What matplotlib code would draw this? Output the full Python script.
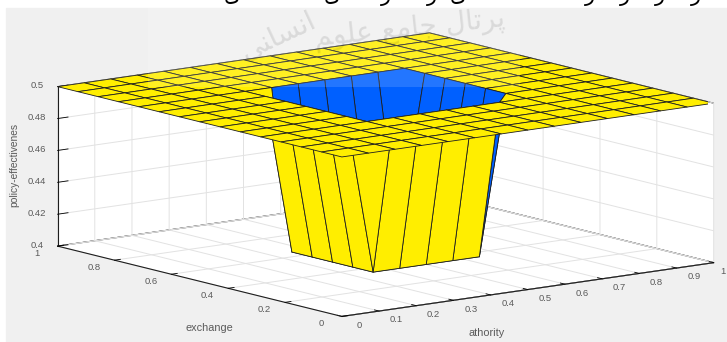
import numpy as np
import matplotlib
matplotlib.use('Agg')
import matplotlib.pyplot as plt
from matplotlib.patches import Rectangle
from matplotlib.transforms import Affine2D
from mpl_toolkits.mplot3d.art3d import Poly3DCollection

plt.rcParams['font.family'] = ['Liberation Sans', 'DejaVu Sans']

# fuzzy surface: 15 x 15 grid, flat 0.5 with a pit of 0.4 in the middle
authority = np.linspace(0, 1, 15)
exchange = np.linspace(0, 1, 15)
pit_low = 5
pit_high = 9
flat_value = 0.5
pit_value = 0.4

z_ticks = [0.4, 0.42, 0.44, 0.46, 0.48, 0.5]
x_ticks = [0, 0.1, 0.2, 0.3, 0.4, 0.5, 0.6, 0.7, 0.8, 0.9, 1]
y_ticks = [0, 0.2, 0.4, 0.6, 0.8, 1]

# watermark and the cut-off text line above the figure (shaped by hand, left to right)
watermark = '\ufee2\ufeee\ufee0\ufecb \ufeca\ufee3\ufe8e\ufe9f \ufedd\ufe8e\ufe97\ufeae\ufb58'
watermark2 = '\ufbfd\ufee8\ufe8e\ufeb4\ufee7\ufe8d'
top_text = [(232, '\ufbfc'), (332, '\ufbfc'), (386, '\ufead'), (432, '\ufead'), (458, '\ufbfc'),
            (590, '\ufead'), (625, '\ufead'), (660, '\ufead'), (696, '\ufead')]

W, H = 727, 342
YELLOW = '#FFEE00'
BLUE = '#0060FF'
GREY = '#F0F0F0'
TXT = '#5A5A5A'
EDGE = '#1E1E1E'

Z = np.full((15, 15), flat_value)
Z[pit_low:pit_high + 1, pit_low:pit_high + 1] = pit_value


def pt(i, j):
    return (authority[i], exchange[j], Z[j, i])


# far walls of the pit are blue, everything else yellow
polys = []
cols = []
for j in range(14):
    for i in range(14):
        if (i, j) == (9, 4):
            polys.append([pt(9, 4), pt(10, 4), pt(10, 5)])
            cols.append(YELLOW)
            polys.append([pt(9, 4), pt(10, 5), pt(9, 5)])
            cols.append(BLUE)
            continue
        polys.append([pt(i, j), pt(i + 1, j), pt(i + 1, j + 1), pt(i, j + 1)])
        far_wall = (i == 9 and 5 <= j <= 9) or (j == 9 and 5 <= i <= 9)
        floor = 5 <= i < 9 and 5 <= j < 9
        cols.append(BLUE if far_wall or floor else YELLOW)

fig = plt.figure(figsize=(W / 100, H / 100), dpi=100, facecolor='white')
fig.add_artist(Rectangle((6 / W, 0), 1, 1 - 8 / H, transform=fig.transFigure, color=GREY, zorder=-5))

S = 661.6
cx, cy = 376.7, 183.6
ax = fig.add_axes([(cx - S / 2) / W, 1 - (cy + S / 2) / H, S / W, S / H], projection='3d')
ax.patch.set_alpha(0)
ax.set_proj_type('ortho')
ax.view_init(elev=10.9, azim=-127.4)
ax.set_box_aspect((1, 1, 0.347))

surf = Poly3DCollection(polys, facecolors=cols, edgecolors=EDGE, linewidths=0.6)
ax.add_collection3d(surf)

ax.set_xlim(0, 1)
ax.set_ylim(0, 1)
ax.set_zlim(0.4, 0.5)
ax.set_xticks(x_ticks)
ax.set_yticks(y_ticks)
ax.set_zticks(z_ticks)
ax.set_xticklabels(['%g' % t for t in x_ticks])
ax.set_yticklabels(['%g' % t for t in y_ticks])
ax.set_zticklabels(['%g' % t for t in z_ticks])
ax.tick_params(labelsize=6.8, labelcolor=TXT, pad=1)

for axis in [ax.xaxis, ax.yaxis, ax.zaxis]:
    axis.set_pane_color('white')
    axis.pane.set_edgecolor(EDGE)
    axis.pane.set_linewidth(0.8)
    axis.line.set_color(EDGE)
    axis.line.set_linewidth(0.8)
    axis._axinfo['grid']['color'] = '#E2E2E2'
    axis._axinfo['grid']['linewidth'] = 0.7
    axis._axinfo['tick']['linewidth'] = {True: 0.6, False: 0.6}
    axis._axinfo['tick']['color'] = EDGE
    axis._axinfo['tick']['inward_factor'] = 0
    axis._axinfo['tick']['outward_factor'] = 0.2
ax.zaxis._axinfo['tick']['outward_factor'] = 0.35

# nudge tick labels in pixels; Axis3D resets the transform on draw, so block that
for axis, dx, dy in [(ax.xaxis, 7, 4), (ax.yaxis, -7, 5), (ax.zaxis, 3, 5)]:
    for tick in axis.get_major_ticks():
        tick.label1.set_transform(ax.transData + Affine2D().translate(dx, dy))
        tick.label1.set_transform = lambda t: None
last_x = ax.xaxis.get_major_ticks()[-1].label1
matplotlib.text.Text.set_transform(last_x, ax.transData + Affine2D().translate(-1, 4))

fig.text(209 / W, 1 - 328 / H, 'exchange', fontsize=7.8, color=TXT, ha='center', va='center')
fig.text(487 / W, 1 - 333 / H, 'athority', fontsize=7.8, color=TXT, ha='center', va='center')
fig.text(14 / W, 1 - 165 / H, 'policy-effectivenes', fontsize=7.4, color=TXT, rotation=90, ha='center', va='center')

# pale band and watermark pasted over the top of the chart
fig.add_artist(Rectangle((148 / W, 1 - 87 / H), 372 / W, 79 / H, transform=fig.transFigure,
                         color='white', alpha=0.14, lw=0, zorder=5))
fig.text(410 / W, 1 - 29 / H, watermark, fontsize=20, color='black', alpha=0.1, rotation=6,
         ha='center', va='center', family=['DejaVu Sans'], zorder=6)
fig.text(278 / W, 1 - 36 / H, watermark2, fontsize=20, color='black', alpha=0.1, rotation=25,
         ha='center', va='center', family=['DejaVu Sans'], zorder=6)
for tx, s in top_text:
    fig.text(tx / W, 1 - 1 / H, s, fontsize=15, color='black', ha='center', va='baseline',
             family=['DejaVu Sans'], zorder=7)

fig.savefig('out.png', dpi=100)
